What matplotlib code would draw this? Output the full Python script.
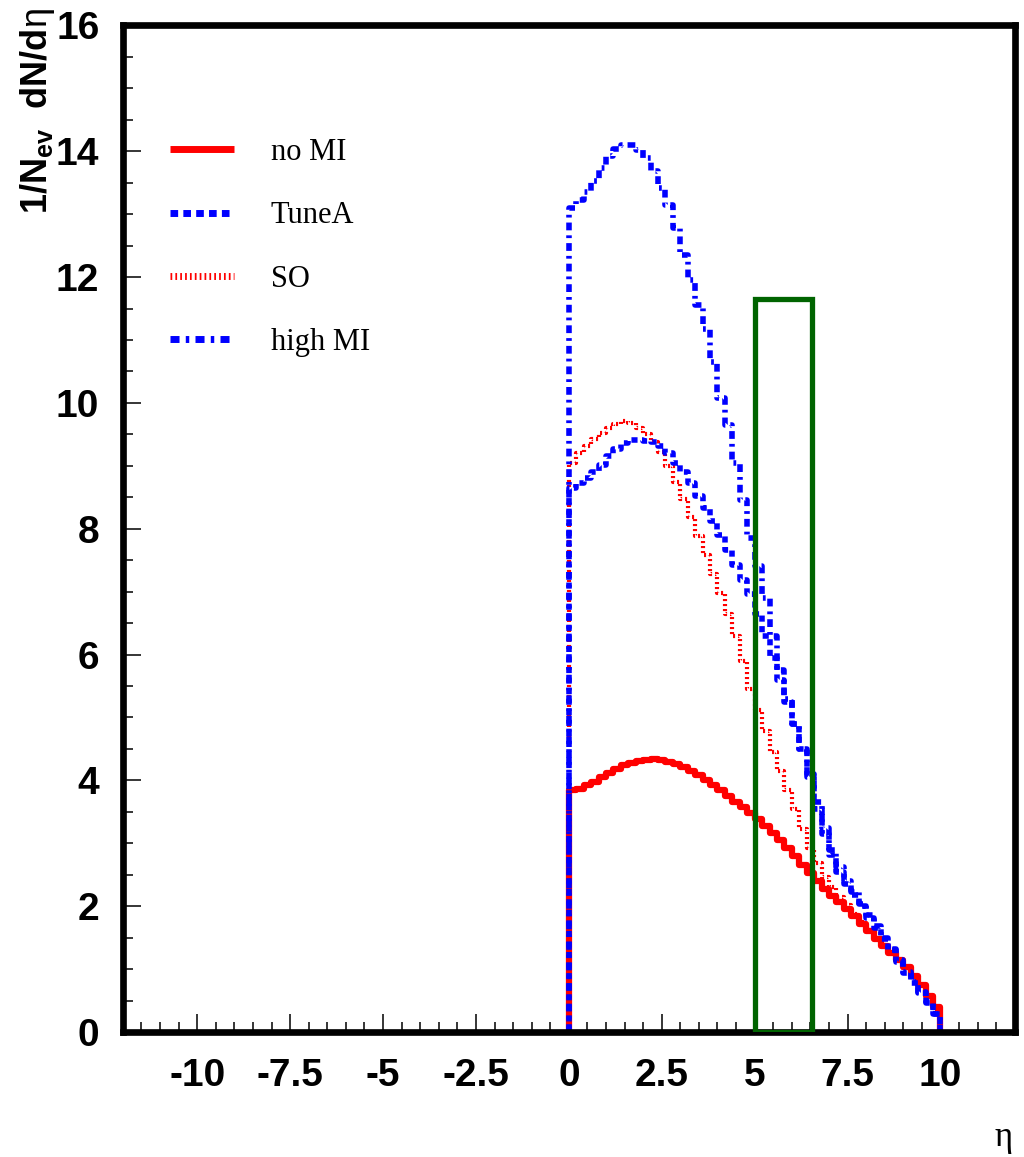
import matplotlib
matplotlib.use("Agg")
import matplotlib.pyplot as plt
from matplotlib.lines import Line2D
from matplotlib.patches import Rectangle
from matplotlib.ticker import MultipleLocator
import numpy as np

# bin edges of the eta histograms (0 .. 10, width 0.2)
eta_edges = np.arange(0, 10.01, 0.2)

no_mi = [3.85, 3.87, 3.92, 3.98, 4.05, 4.12, 4.18, 4.24, 4.28, 4.31,
         4.33, 4.34, 4.33, 4.30, 4.26, 4.21, 4.15, 4.08, 4.00, 3.92,
         3.84, 3.75, 3.66, 3.57, 3.48, 3.39, 3.28, 3.17, 3.05, 2.93,
         2.80, 2.66, 2.53, 2.40, 2.28, 2.17, 2.06, 1.96, 1.84, 1.72,
         1.60, 1.48, 1.37, 1.26, 1.15, 1.03, 0.89, 0.75, 0.58, 0.40]

tune_a = [8.65, 8.72, 8.80, 8.90, 9.02, 9.15, 9.27, 9.36, 9.41, 9.41,
          9.40, 9.38, 9.32, 9.20, 9.05, 8.90, 8.72, 8.52, 8.33, 8.12,
          7.90, 7.66, 7.42, 7.18, 6.96, 6.65, 6.30, 5.95, 5.60, 5.25,
          4.90, 4.50, 4.05, 3.55, 3.15, 2.82, 2.55, 2.35, 2.18, 2.00,
          1.82, 1.65, 1.48, 1.30, 1.12, 0.94, 0.78, 0.62, 0.46, 0.28]

so = [9.05, 9.20, 9.32, 9.42, 9.52, 9.60, 9.67, 9.71, 9.68, 9.60,
      9.50, 9.38, 9.22, 9.00, 8.75, 8.48, 8.18, 7.88, 7.58, 7.28,
      6.98, 6.65, 6.30, 5.90, 5.45, 5.12, 4.78, 4.45, 4.15, 3.85,
      3.55, 3.22, 2.92, 2.68, 2.46, 2.30, 2.15, 2.02, 1.88, 1.75,
      1.62, 1.50, 1.38, 1.26, 1.14, 1.02, 0.88, 0.74, 0.57, 0.36]

high_mi = [13.10, 13.22, 13.35, 13.52, 13.74, 13.92, 14.03, 14.10, 14.10, 14.02,
           13.90, 13.68, 13.42, 13.15, 12.78, 12.35, 11.95, 11.55, 11.18, 10.65,
           10.08, 9.65, 9.05, 8.45, 7.85, 7.40, 6.90, 6.30, 5.75, 5.30,
           4.90, 4.50, 4.10, 3.65, 3.25, 2.90, 2.62, 2.40, 2.22, 2.04,
           1.86, 1.68, 1.50, 1.32, 1.14, 0.96, 0.80, 0.63, 0.47, 0.29]

# highlighted eta window
box_eta = [5.0, 6.55]
box_top = 11.65

x_ticks = [-10, -7.5, -5, -2.5, 0, 2.5, 5, 7.5, 10]
x_tick_labels = ["-10", "-7.5", "-5", "-2.5", "0", "2.5", "5", "7.5", "10"]
y_ticks = [0, 2, 4, 6, 8, 10, 12, 14, 16]

plt.rcParams["mathtext.fontset"] = "custom"
plt.rcParams["mathtext.rm"] = "Liberation Sans"
plt.rcParams["mathtext.bf"] = "Liberation Sans:bold"
plt.rcParams["mathtext.it"] = "Liberation Sans:italic"

fig = plt.figure(figsize=(10.24, 11.57), dpi=100)
ax = fig.add_axes([0.120, 0.108, 0.871, 0.870])


def hist_line(values):
    xs = np.concatenate([[0.0], eta_edges])
    ys = np.concatenate([[0.0], values, [0.0]])
    return xs, ys


blue = "#0000ff"
red = "#ff0000"

x, y = hist_line(no_mi)
ax.plot(x, y, drawstyle="steps-post", color=red, lw=4.5)
x, y = hist_line(so)
ax.plot(x, y, drawstyle="steps-post", color=red, lw=3.0,
        linestyle=(0, (0.5, 0.7)), dash_capstyle="butt")
x, y = hist_line(tune_a)
ax.plot(x, y, drawstyle="steps-post", color=blue, lw=4.0,
        linestyle=(0, (1.1, 0.8)), dash_capstyle="butt")
x, y = hist_line(high_mi)
ax.plot(x, y, drawstyle="steps-post", color=blue, lw=4.0,
        linestyle=(0, (1.4, 0.9, 0.5, 0.9)), dash_capstyle="butt")

ax.add_patch(Rectangle((box_eta[0], 0), box_eta[1] - box_eta[0], box_top,
                       fill=False, edgecolor="#006400", lw=3.8, zorder=5))

ax.set_xlim(-12, 12)
ax.set_ylim(0, 16)

tick_font = {"family": "Liberation Sans", "weight": "bold", "size": 28}
ax.set_xticks(x_ticks)
ax.set_xticklabels(x_tick_labels, fontdict=tick_font)
ax.set_yticks(y_ticks)
ax.set_yticklabels([str(v) for v in y_ticks], fontdict=tick_font)
ax.xaxis.set_minor_locator(MultipleLocator(0.5))
ax.yaxis.set_minor_locator(MultipleLocator(0.5))
ax.tick_params(which="both", direction="in", top=False, right=False, width=1.1)
ax.tick_params(which="major", length=13)
ax.tick_params(which="minor", length=7)
ax.tick_params(axis="x", which="major", pad=19)
ax.tick_params(axis="y", which="major", pad=17)

for sp in ax.spines.values():
    sp.set_linewidth(4.8)

handles = [
    Line2D([], [], color=red, lw=5, solid_capstyle="butt"),
    Line2D([], [], color=blue, lw=5, linestyle=(0, (1.1, 0.75)), dash_capstyle="butt"),
    Line2D([], [], color=red, lw=5, linestyle=(0, (0.25, 0.45)), dash_capstyle="butt"),
    Line2D([], [], color=blue, lw=5, linestyle=(0, (1.3, 0.9, 0.5, 0.9)), dash_capstyle="butt"),
]
labels = ["no MI", "TuneA", "SO", "high MI"]
ax.legend(handles, labels, loc="upper left", bbox_to_anchor=(0.053, 0.888),
          frameon=False, borderpad=0, borderaxespad=0, handlelength=2.1,
          handletextpad=1.2, labelspacing=1.12,
          prop={"family": "Liberation Serif", "size": 22})

fig.text(18 / 1024, 1 - 8 / 1157, r"$\mathbf{1/N_{ev}\ \ dN/d}\mathrm{\eta}$",
         rotation=90, ha="left", va="top", fontsize=26)
fig.text(1013 / 1024, 1 - 1138 / 1157, "\u03b7", ha="right", va="center",
         family="Liberation Serif", fontsize=25)

fig.savefig("out.png", dpi=100)
